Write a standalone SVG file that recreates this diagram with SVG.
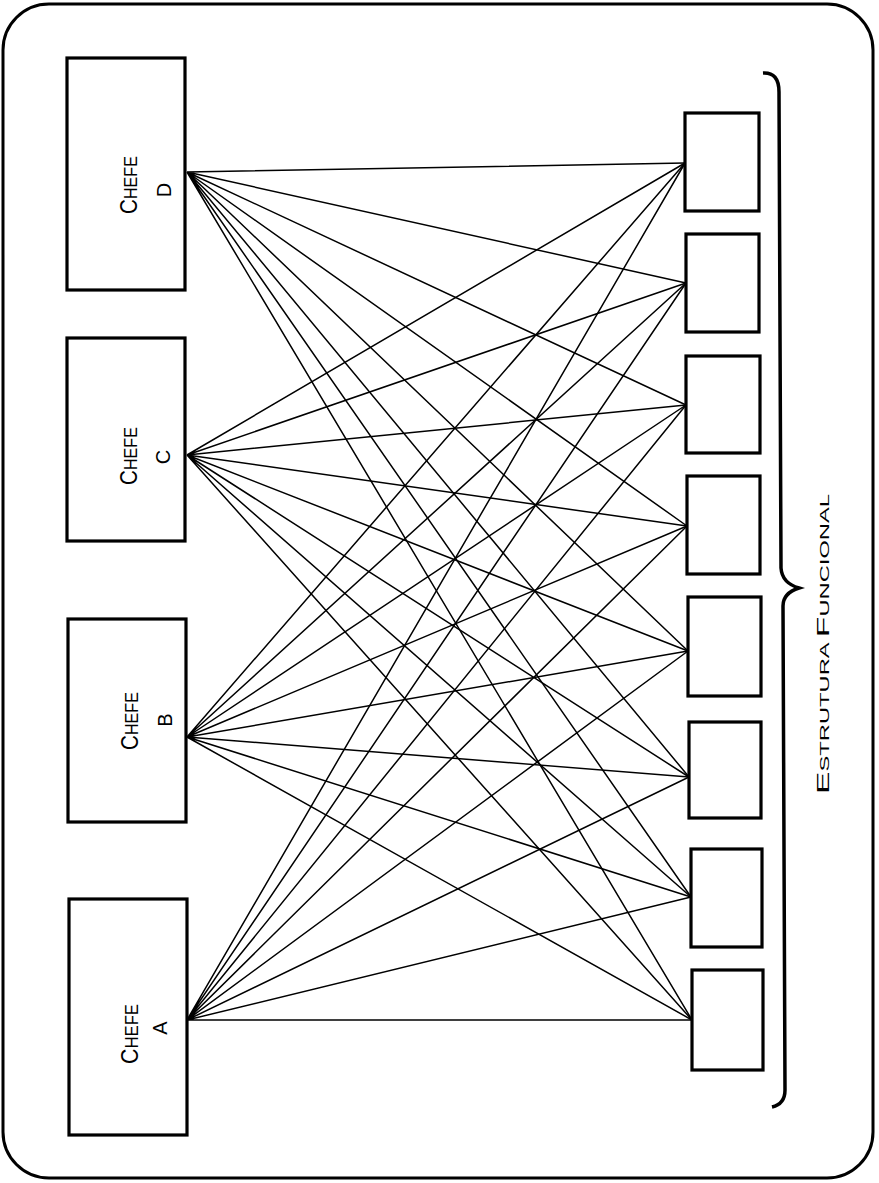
<svg xmlns="http://www.w3.org/2000/svg" width="879" height="1183" viewBox="0 0 879 1183">
<style>
.frame{fill:none;stroke:#000;stroke-width:3}
.box{fill:#fff;stroke:#000;stroke-width:3.2}
.ln{stroke:#000;stroke-width:1.5;fill:none}
.lbl{font-family:"Liberation Sans",Arial,sans-serif;fill:#000;text-anchor:middle}
</style>
<rect class="frame" x="3" y="4" width="870" height="1174" rx="46" ry="46"/>
<g id="chefe-d"><rect class="box" x="67" y="58" width="118" height="232"/>
<text class="lbl" transform="translate(137,185) rotate(-90)" textLength="58" lengthAdjust="spacingAndGlyphs"><tspan font-size="23">C</tspan><tspan font-size="18">HEFE</tspan></text>
<text class="lbl" font-size="20" transform="translate(171,190) rotate(-90)">D</text></g>
<g id="chefe-c"><rect class="box" x="67" y="338" width="118" height="203"/>
<text class="lbl" transform="translate(137,456) rotate(-90)" textLength="58" lengthAdjust="spacingAndGlyphs"><tspan font-size="23">C</tspan><tspan font-size="18">HEFE</tspan></text>
<text class="lbl" font-size="20" transform="translate(170,457) rotate(-90)">C</text></g>
<g id="chefe-b"><rect class="box" x="68" y="619" width="118" height="203"/>
<text class="lbl" transform="translate(138,721) rotate(-90)" textLength="58" lengthAdjust="spacingAndGlyphs"><tspan font-size="23">C</tspan><tspan font-size="18">HEFE</tspan></text>
<text class="lbl" font-size="20" transform="translate(172,720) rotate(-90)">B</text></g>
<g id="chefe-a"><rect class="box" x="69" y="899" width="118" height="236"/>
<text class="lbl" transform="translate(138,1034) rotate(-90)" textLength="60" lengthAdjust="spacingAndGlyphs"><tspan font-size="23">C</tspan><tspan font-size="18">HEFE</tspan></text>
<text class="lbl" font-size="20" transform="translate(167,1028) rotate(-90)">A</text></g>
<g id="f1"><rect class="box" x="685" y="113" width="74" height="98"/></g>
<g id="f2"><rect class="box" x="686" y="234" width="73" height="98"/></g>
<g id="f3"><rect class="box" x="686" y="356" width="74" height="97"/></g>
<g id="f4"><rect class="box" x="687" y="476" width="73" height="98"/></g>
<g id="f5"><rect class="box" x="688" y="597" width="73" height="99"/></g>
<g id="f6"><rect class="box" x="689" y="722" width="72" height="96"/></g>
<g id="f7"><rect class="box" x="691" y="849" width="71" height="98"/></g>
<g id="f8"><rect class="box" x="692" y="970" width="71" height="100"/></g>
<g id="connectors">
<path class="ln" d="M187,172L685,163M187,172L686,283M187,172L686,405M187,172L687,526M187,172L688,651M187,172L689,777M187,172L691,897M187,172L692,1020"/>
<path class="ln" d="M187,455L685,163M187,455L686,283M187,455L686,405M187,455L687,526M187,455L688,651M187,455L689,777M187,455L691,897M187,455L692,1020"/>
<path class="ln" d="M187,737L685,163M187,737L686,283M187,737L686,405M187,737L687,526M187,737L688,651M187,737L689,777M187,737L691,897M187,737L692,1020"/>
<path class="ln" d="M187,1020L685,163M187,1020L686,283M187,1020L686,405M187,1020L687,526M187,1020L688,651M187,1020L689,777M187,1020L691,897M187,1020L692,1020"/>
</g>
<g id="brace">
<path d="M763,73 Q779,72 779,92 L781,568 Q782,583 799,588 Q783,593 783,606 L785,1090 Q785,1104 772,1107" fill="none" stroke="#000" stroke-width="3.5"/>
<text class="lbl" transform="translate(829,644) rotate(-90)" textLength="300" lengthAdjust="spacingAndGlyphs"><tspan font-size="17">E</tspan><tspan font-size="12">STRUTURA </tspan><tspan font-size="17">F</tspan><tspan font-size="12">UNCIONAL</tspan></text>
</g>
</svg>
